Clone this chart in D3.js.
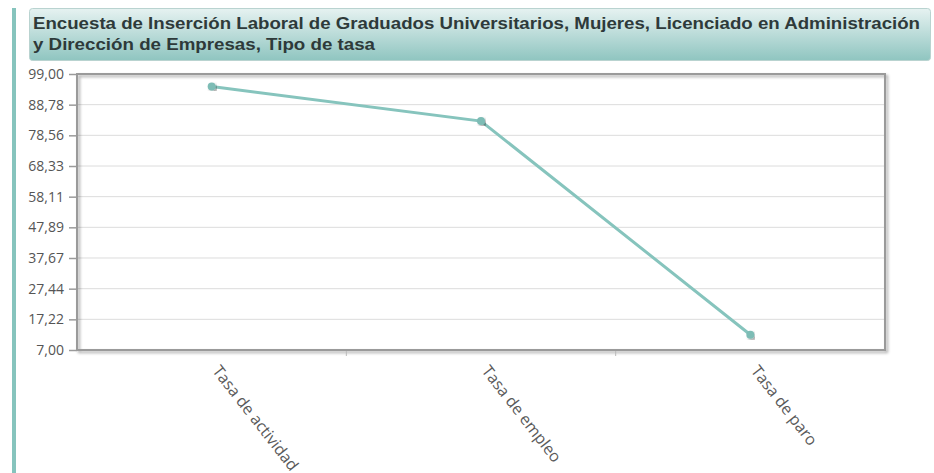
<!DOCTYPE html>
<html>
<head>
<meta charset="utf-8">
<script src="https://cdn.jsdelivr.net/npm/d3@7"></script>
<style>
  body { margin: 0; background: #fff; }
  svg { display: block; }
</style>
</head>
<body>
<svg id="chart" width="934" height="473"></svg>
<script>
// datos
var titleLines = [
  "Encuesta de Inserción Laboral de Graduados Universitarios, Mujeres, Licenciado en Administración",
  "y Dirección de Empresas, Tipo de tasa"
];
var titleWidths = [887, 342];
var categories = ["Tasa de actividad", "Tasa de empleo", "Tasa de paro"];
var values = [94.8, 83.3, 12.1];
var yTicks = [7.00, 17.22, 27.44, 37.67, 47.89, 58.11, 68.33, 78.56, 88.78, 99.00];

var svg = d3.select("#chart");
var defs = svg.append("defs");

var grad = defs.append("linearGradient")
  .attr("id", "titleGrad")
  .attr("x1", 0).attr("y1", 0).attr("x2", 0).attr("y2", 1);
grad.append("stop").attr("offset", "0%").attr("stop-color", "#e6f2f1");
grad.append("stop").attr("offset", "100%").attr("stop-color", "#8fc5c0");

var shadow = defs.append("filter").attr("id", "shadow")
  .attr("x", "-5%").attr("y", "-5%").attr("width", "110%").attr("height", "110%");
shadow.append("feDropShadow")
  .attr("dx", 2).attr("dy", 2).attr("stdDeviation", 1.5)
  .attr("flood-color", "#000").attr("flood-opacity", 0.35);

// barra lateral
svg.append("rect")
  .attr("x", 12).attr("y", 8).attr("width", 4).attr("height", 465)
  .attr("fill", "#86c4bd");

// cabecera
svg.append("rect")
  .attr("x", 29.5).attr("y", 8.5).attr("width", 901).attr("height", 52)
  .attr("rx", 3)
  .attr("fill", "url(#titleGrad)")
  .attr("stroke", "#b9d3d0");

svg.selectAll("text.title")
  .data(titleLines)
  .enter().append("text")
  .attr("class", "title")
  .attr("x", 33)
  .attr("y", function(d, i) { return 29 + i * 21; })
  .attr("textLength", function(d, i) { return titleWidths[i]; })
  .attr("lengthAdjust", "spacingAndGlyphs")
  .style("font-family", "Liberation Sans, Arial, sans-serif")
  .style("font-weight", "bold")
  .style("font-size", "17px")
  .style("fill", "#2e3a3a")
  .text(function(d) { return d; });

var pLeft = 77, pRight = 885, pTop = 74, pBottom = 350;

var x = d3.scaleBand().domain(categories).range([pLeft, pRight]);
var y = d3.scaleLinear().domain([7, 99]).range([pBottom, pTop]);

var fmt = function(d) { return d3.format(".2f")(d).replace(".", ","); };

// grid
svg.append("g")
  .selectAll("line")
  .data(yTicks)
  .enter().append("line")
  .attr("x1", pLeft).attr("x2", pRight)
  .attr("y1", function(d) { return y(d); })
  .attr("y2", function(d) { return y(d); })
  .attr("stroke", "#dcdcdc")
  .attr("stroke-width", 1);

// marco
svg.append("rect")
  .attr("x", pLeft).attr("y", pTop)
  .attr("width", pRight - pLeft).attr("height", pBottom - pTop)
  .attr("fill", "none")
  .attr("stroke", "#9a9a9a")
  .attr("stroke-width", 2)
  .attr("filter", "url(#shadow)");

// eje y
var yAxis = svg.append("g")
  .attr("transform", "translate(" + pLeft + ",0)")
  .call(d3.axisLeft(y).tickValues(yTicks).tickFormat(fmt).tickSize(8).tickPadding(5));
yAxis.select(".domain").remove();
yAxis.selectAll("line").attr("stroke", "#9a9a9a").attr("stroke-width", 1.5);
yAxis.selectAll("text")
  .style("font-family", "Open Sans, sans-serif")
  .style("font-size", "14px")
  .style("fill", "#555");

// eje x: marcas entre categorias
var xAxis = svg.append("g")
  .attr("transform", "translate(0," + pBottom + ")");
xAxis.selectAll("line")
  .data(categories.slice(1))
  .enter().append("line")
  .attr("x1", function(d) { return x(d); })
  .attr("x2", function(d) { return x(d); })
  .attr("y1", 1).attr("y2", 6)
  .attr("stroke", "#bbb");

xAxis.selectAll("text")
  .data(categories)
  .enter().append("text")
  .attr("transform", function(d) {
    return "translate(" + (x(d) + x.bandwidth() / 2) + ",21) rotate(52)";
  })
  .style("font-family", "Open Sans, sans-serif")
  .style("font-size", "16px")
  .style("fill", "#5a5a5a")
  .text(function(d) { return d; });

// serie
var line = d3.line()
  .x(function(d, i) { return x(categories[i]) + x.bandwidth() / 2; })
  .y(function(d) { return y(d); });

svg.append("path")
  .datum(values)
  .attr("d", line)
  .attr("fill", "none")
  .attr("stroke", "#86c4bd")
  .attr("stroke-width", 3);

svg.selectAll("circle.pt")
  .data(values)
  .enter().append("circle")
  .attr("class", "pt")
  .attr("cx", function(d, i) { return x(categories[i]) + x.bandwidth() / 2; })
  .attr("cy", function(d) { return y(d); })
  .attr("r", 4)
  .attr("fill", "#7dbcb5")
  .attr("filter", "url(#shadow)");
</script>
</body>
</html>
